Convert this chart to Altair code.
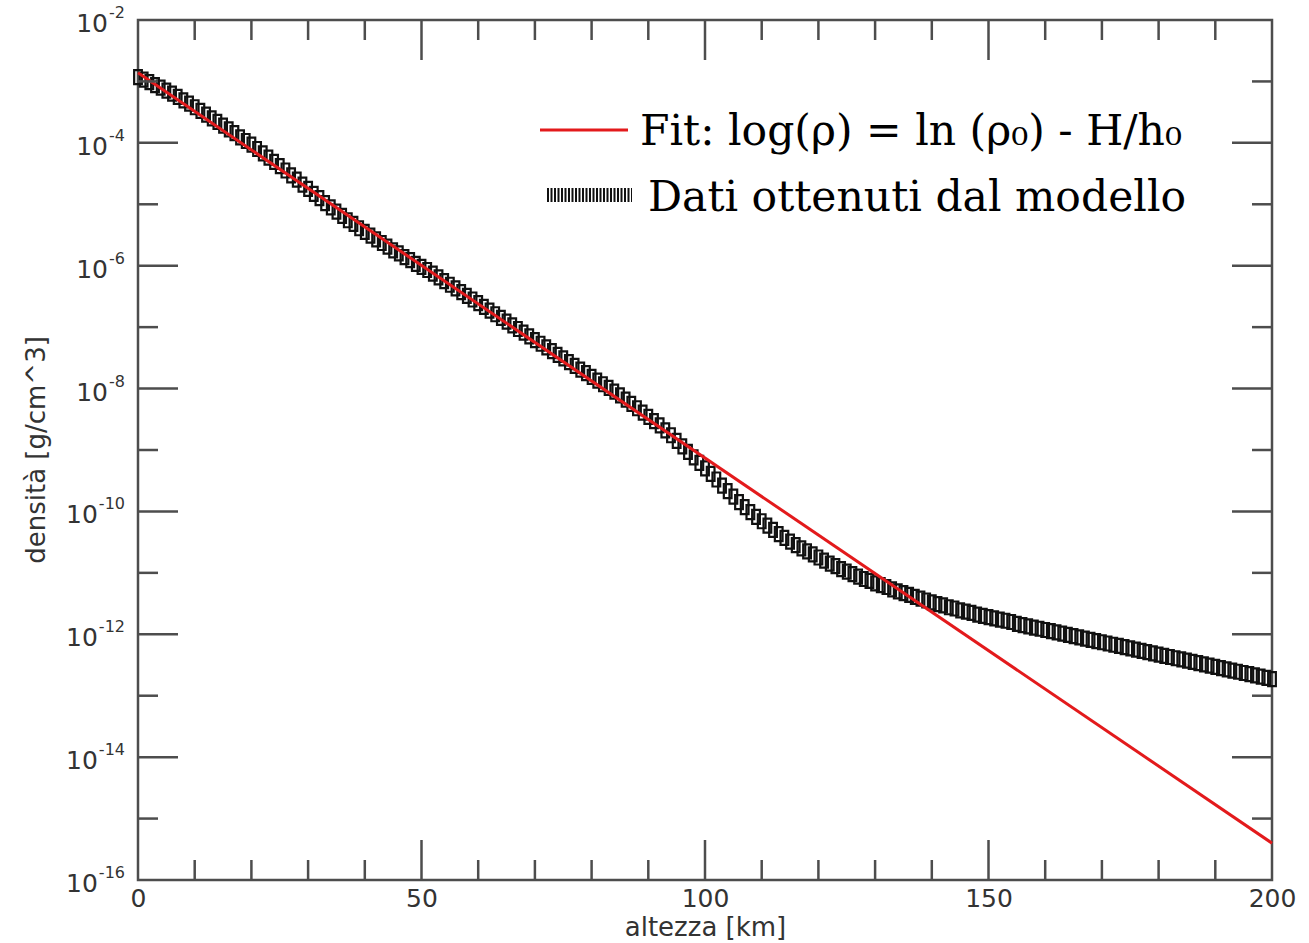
import altair as alt
import pandas as pd

# ---------------- data ----------------
# altitude in km (model data every km)
altezza = list(range(0, 201))
# log10 of density [g/cm^3] of the model data
log_dens = [
    -2.93, -2.97, -3.01, -3.06, -3.10, -3.15, -3.20, -3.25, -3.31, -3.36,
    -3.42, -3.48, -3.54, -3.60, -3.66, -3.72, -3.78, -3.84, -3.91, -3.97,
    -4.03, -4.10, -4.17, -4.24, -4.31, -4.38, -4.45, -4.53, -4.60, -4.68,
    -4.75, -4.83, -4.90, -4.98, -5.05, -5.12, -5.19, -5.26, -5.32, -5.39,
    -5.45, -5.51, -5.57, -5.63, -5.69, -5.75, -5.80, -5.86, -5.91, -5.97,
    -6.02, -6.07, -6.13, -6.19, -6.25, -6.31, -6.37, -6.43, -6.49, -6.55,
    -6.61, -6.67, -6.73, -6.79, -6.85, -6.91, -6.97, -7.03, -7.09, -7.15,
    -7.21, -7.27, -7.33, -7.39, -7.45, -7.51, -7.57, -7.63, -7.69, -7.75,
    -7.81, -7.87, -7.93, -7.99, -8.05, -8.11, -8.18, -8.25, -8.32, -8.39,
    -8.46, -8.53, -8.60, -8.68, -8.76, -8.85, -8.94, -9.03, -9.12, -9.21,
    -9.30, -9.39, -9.48, -9.58, -9.67, -9.76, -9.85, -9.93, -10.01, -10.09,
    -10.16, -10.23, -10.30, -10.37, -10.43, -10.49, -10.55, -10.60, -10.65, -10.70,
    -10.75, -10.80, -10.85, -10.89, -10.94, -10.98, -11.02, -11.06, -11.10, -11.13,
    -11.17, -11.20, -11.23, -11.27, -11.30, -11.33, -11.36, -11.39, -11.42, -11.45,
    -11.48, -11.51, -11.53, -11.56, -11.58, -11.61, -11.63, -11.65, -11.68, -11.70,
    -11.72, -11.74, -11.76, -11.78, -11.80, -11.83, -11.85, -11.87, -11.89, -11.91,
    -11.93, -11.95, -11.97, -11.99, -12.01, -12.03, -12.05, -12.07, -12.09, -12.11,
    -12.13, -12.15, -12.17, -12.19, -12.21, -12.23, -12.25, -12.27, -12.29, -12.31,
    -12.33, -12.35, -12.37, -12.39, -12.41, -12.43, -12.45, -12.47, -12.49, -12.51,
    -12.53, -12.55, -12.57, -12.59, -12.61, -12.63, -12.65, -12.67, -12.69, -12.71,
    -12.73,
]
# straight-line fit (in log space): endpoints
fit_x = [0, 200]
fit_log = [-2.86, -15.40]

# axis ticks
x_major = [50, 100, 150]
x_minor = [10, 20, 30, 40, 60, 70, 80, 90, 110, 120, 130, 140, 160, 170, 180, 190]
y_major_exp = [-4, -6, -8, -10, -12, -14]
y_minor_exp = [-3, -5, -7, -9, -11, -13, -15]
y_label_exp = [-2, -4, -6, -8, -10, -12, -14, -16]

legend_fit = "Fit: log(\u03c1) = ln (\u03c1\u2080) - H/h\u2080"
legend_data = "Dati ottenuti dal modello"

# ---------------- tables ----------------
model_df = pd.DataFrame({"h": altezza, "rho": [10 ** v for v in log_dens]})
fit_df = pd.DataFrame({"h": fit_x, "rho": [10 ** v for v in fit_log]})
xmaj_df = pd.DataFrame({"h": x_major})
xmin_df = pd.DataFrame({"h": x_minor})
ymaj_df = pd.DataFrame({"rho": [10.0 ** e for e in y_major_exp]})
ymin_df = pd.DataFrame({"rho": [10.0 ** e for e in y_minor_exp]})
ylab_df = pd.DataFrame({"rho": [10.0 ** e for e in y_label_exp],
                        "exp": [str(e) for e in y_label_exp]})

W, H = 1134, 860
MAJ, MIN = 40, 20
AX = "#4d4d4d"
TXT = "#333333"

xs = alt.Scale(domain=[0, 200], nice=False, zero=False)
ys = alt.Scale(type="log", domain=[1e-16, 1e-2], nice=False)

x_enc = alt.X("h:Q", scale=xs,
              axis=alt.Axis(values=[0, 50, 100, 150, 200], ticks=False, domain=False,
                            grid=False, labelFlush=False, labelFont="DejaVu Sans",
                            labelFontSize=25, labelColor=TXT, labelPadding=6,
                            title="altezza [km]", titleFont="DejaVu Sans",
                            titleFontSize=26, titleFontWeight="normal",
                            titleColor=TXT, titlePadding=3))
y_enc = alt.Y("rho:Q", scale=ys, axis=None)

marker_path = "M-0.55,-1L0.55,-1L0.55,1L-0.55,1Z"

points = alt.Chart(model_df).mark_point(
    shape=marker_path, size=196, filled=False, stroke="#111111", strokeWidth=2.2, opacity=1
).encode(x=x_enc, y=y_enc)

fit_line = alt.Chart(fit_df).mark_line(color="#e31a1c", strokeWidth=3).encode(
    x=alt.X("h:Q", scale=xs), y=alt.Y("rho:Q", scale=ys))

def xticks(df, y0, y1):
    return alt.Chart(df).mark_rule(color=AX, strokeWidth=2.5).encode(
        x=alt.X("h:Q", scale=xs), y=alt.value(y0), y2=alt.value(y1))

def yticks(df, x0, x1):
    return alt.Chart(df).mark_rule(color=AX, strokeWidth=2.5).encode(
        y=alt.Y("rho:Q", scale=ys), x=alt.value(x0), x2=alt.value(x1))

ticks = [
    xticks(xmaj_df, H, H - MAJ), xticks(xmaj_df, 0, MAJ),
    xticks(xmin_df, H, H - MIN), xticks(xmin_df, 0, MIN),
    yticks(ymaj_df, 0, MAJ), yticks(ymaj_df, W, W - MAJ),
    yticks(ymin_df, 0, MIN), yticks(ymin_df, W, W - MIN),
]

ten = alt.Chart(ylab_df).transform_calculate(
    xpos="-14 - (5.8 + 10.2 * (length(datum.exp) - 1))"
).mark_text(align="right", baseline="middle", font="DejaVu Sans", fontSize=25,
            color=TXT, dy=4).encode(
    x=alt.X("xpos:Q", scale=None), y=alt.Y("rho:Q", scale=ys), text=alt.value("10"))

sup = alt.Chart(ylab_df).mark_text(align="right", baseline="middle", font="DejaVu Sans",
                                   fontSize=16, color=TXT, dy=-7).encode(
    x=alt.value(-13), y=alt.Y("rho:Q", scale=ys), text="exp:N")

ytitle = alt.Chart(ylab_df.head(1)).mark_text(
    angle=270, align="center", baseline="middle", font="DejaVu Sans",
    fontSize=26, color=TXT).encode(
    x=alt.value(-101), y=alt.value(H / 2), text=alt.value("densità [g/cm^3]"))

leg_red = alt.Chart(fit_df.head(1)).mark_rule(color="#e31a1c", strokeWidth=3).encode(
    x=alt.value(402), x2=alt.value(490), y=alt.value(110))
leg_blk = alt.Chart(fit_df.head(1)).mark_rule(color="#111111", strokeWidth=14,
                                              strokeDash=[2, 1.5]).encode(
    x=alt.value(409), x2=alt.value(494), y=alt.value(175))
leg_t1 = alt.Chart(fit_df.head(1)).mark_text(
    align="left", baseline="alphabetic", font="DejaVu Serif", fontSize=42.5,
    color="black").encode(x=alt.value(502), y=alt.value(125), text=alt.value(legend_fit))
leg_t2 = alt.Chart(fit_df.head(1)).mark_text(
    align="left", baseline="alphabetic", font="DejaVu Serif", fontSize=42.5,
    color="black").encode(x=alt.value(510), y=alt.value(191), text=alt.value(legend_data))

chart = alt.layer(
    points, fit_line, *ticks, ten, sup, ytitle, leg_red, leg_blk, leg_t1, leg_t2
).properties(
    width=W, height=H,
    autosize=alt.AutoSizeParams(type="none"),
    padding={"left": 138, "top": 20, "right": 37, "bottom": 63},
    background="white",
).configure_view(stroke=AX, strokeWidth=2.5)

chart.save("out.html", embed_options={"renderer": "svg", "actions": False})
